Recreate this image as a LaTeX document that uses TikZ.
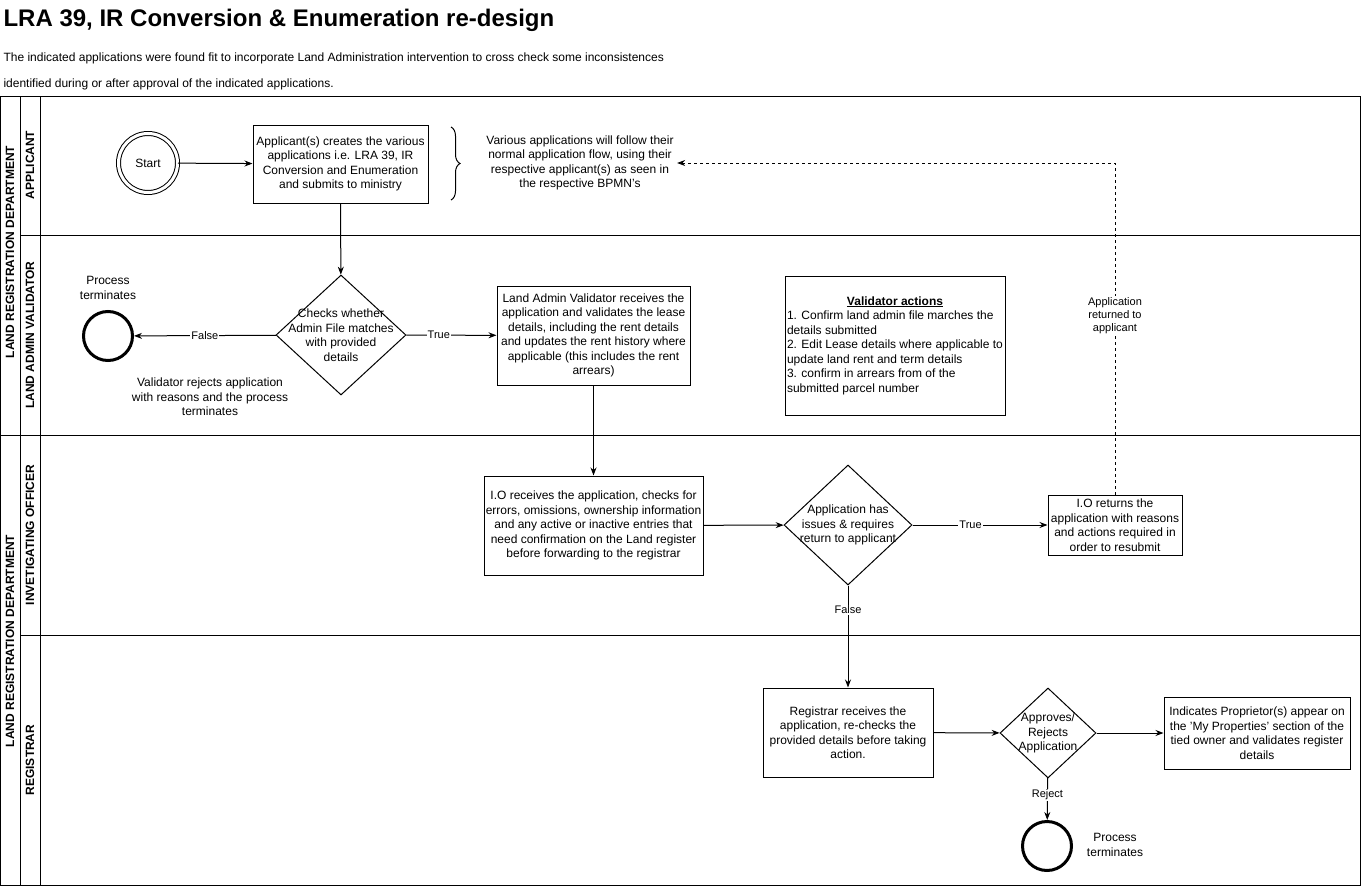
\documentclass[tikz,border=0pt]{standalone}
\usepackage{fontspec}
\setmainfont{Liberation Sans}
\usetikzlibrary{shapes.geometric,arrows.meta,decorations.pathreplacing}

\begin{document}
\begin{tikzpicture}[x=1pt,y=-1pt,
    font=\fontsize{12}{14.5}\selectfont,
    box/.style={draw, line width=1pt, align=center, inner sep=0pt},
    decision/.style={draw, diamond, line width=1pt, inner sep=0pt},
    endevent/.style={draw, circle, line width=3pt, minimum size=49pt, inner sep=0pt},
    flow/.style={line width=1pt, -{Stealth[length=8pt,width=6pt]}},
    flowlabel/.style={fill=white, inner sep=1pt, font=\fontsize{11}{13}\selectfont},
    lanelabel/.style={rotate=90, font=\fontsize{12}{14}\selectfont\bfseries}]
    \useasboundingbox (0,0) rectangle (1361,886);

    % title
    \node[anchor=west, font=\fontsize{24}{28}\selectfont\bfseries] (title) at (0,20) {LRA 39, IR Conversion \& Enumeration re-design};
    \node[anchor=west] (intro1) at (0,58) {The indicated applications were found fit to incorporate Land Administration intervention to cross check some inconsistences};
    \node[anchor=west] (intro2) at (0,84) {identified during or after approval of the indicated applications.};

    % pools and lanes
    \draw[line width=1pt] (0,96) rectangle (1360,885);
    \draw[line width=1pt] (20,96) -- (20,885);
    \draw[line width=1pt] (40,96) -- (40,885);
    \draw[line width=1pt] (0,435) -- (1360,435);
    \draw[line width=1pt] (20,235) -- (1360,235);
    \draw[line width=1pt] (20,635) -- (1360,635);
    \node[lanelabel] (pooltop) at (10,252) {LAND REGISTRATION DEPARTMENT};
    \node[lanelabel] (poolbottom) at (10,641) {LAND REGISTRATION DEPARTMENT};
    \node[lanelabel] (laneapp) at (30,165) {APPLICANT};
    \node[lanelabel] (laneval) at (30,335) {LAND ADMIN VALIDATOR};
    \node[lanelabel] (laneio) at (30,535) {INVETIGATING OFFICER};
    \node[lanelabel] (lanereg) at (30,760) {REGISTRAR};

    % applicant
    \node[draw, circle, line width=1pt, double, double distance=3pt, minimum size=59pt] (start) at (148,163) {Start};
    \node[box, minimum width=175pt, minimum height=78pt] (create) at (340.5,164) {Applicant(s) creates the various\\applications i.e. LRA 39, IR\\Conversion and Enumeration\\and submits to ministry};
    \draw[line width=1pt, decorate, decoration={brace, amplitude=9pt}] (451,127) -- (451,200);
    \node[align=center] (note) at (580,163) {Various applications will follow their\\normal application flow, using their\\respective applicant(s) as seen in\\the respective BPMN's};

    % land admin validator
    \node[decision, minimum width=130pt, minimum height=120pt,
        label={[align=center]center:Checks whether\\Admin File matches\\with provided\\details}] (check) at (341,335) {};
    \node[endevent] (end1) at (108,336) {};
    \node[align=center] (endtext1) at (108,288) {Process\\terminates};
    \node[align=center] (rejecttext) at (210,397) {Validator rejects application\\with reasons and the process\\terminates};
    \node[box, minimum width=193pt, minimum height=99pt] (validate) at (593.5,335.5) {Land Admin Validator receives the\\application and validates the lease\\details, including the rent details\\and updates the rent history where\\applicable (this includes the rent\\arrears)};
    \node[box, minimum width=220pt, minimum height=139pt, align=left] (actions) at (895,345.5) {\makebox[216pt]{\bfseries\underline{Validator actions}}\\1. Confirm land admin file marches the\\details submitted\\2. Edit Lease details where applicable to\\update land rent and term details\\3. confirm in arrears from of the\\submitted parcel number};

    % investigating officer
    \node[box, minimum width=219pt, minimum height=99pt] (inspect) at (593.5,525.5) {I.O receives the application, checks for\\errors, omissions, ownership information\\and any active or inactive entries that\\need confirmation on the Land register\\before forwarding to the registrar};
    \node[decision, minimum width=128pt, minimum height=120pt,
        label={[align=center]center:Application has\\issues \& requires\\return to applicant}] (issues) at (848,525) {};
    \node[box, minimum width=134pt, minimum height=60pt] (giveback) at (1115,525) {I.O returns the\\application with reasons\\and actions required in\\order to resubmit};

    % registrar
    \node[box, minimum width=170pt, minimum height=89pt] (recheck) at (848,732.5) {Registrar receives the\\application, re-checks the\\provided details before taking\\action.};
    \node[decision, minimum width=96pt, minimum height=90pt,
        label={[align=center]center:Approves/\\Rejects\\Application}] (approve) at (1048,733) {};
    \node[box, minimum width=186pt, minimum height=72pt] (register) at (1257,733) {Indicates Proprietor(s) appear on\\the 'My Properties' section of the\\tied owner and validates register\\details};
    \node[endevent] (end2) at (1047,846) {};
    \node[align=center] (endtext2) at (1115,845) {Process\\terminates};

    % flows
    \draw[flow] (start) -- (create);
    \draw[flow] (create) -- (check);
    \draw[flow] (check) -- node[flowlabel, pos=0.5] {False} (end1);
    \draw[flow] (check) -- node[flowlabel, pos=0.36] {True} (validate);
    \draw[flow] (validate) -- (inspect);
    \draw[flow] (inspect) -- (issues);
    \draw[flow] (issues) -- node[flowlabel, pos=0.43] {True} (giveback);
    \draw[flow] (issues) -- node[flowlabel, pos=0.24] {False} (recheck);
    \draw[flow] (recheck) -- (approve);
    \draw[flow] (approve) -- (register);
    \draw[flow] (approve) -- node[flowlabel, pos=0.4] {Reject} (end2);
    \draw[flow, dash pattern=on 3pt off 3pt] (giveback) |- node[flowlabel, pos=0.27, align=center] {Application\\returned to\\applicant} (note);

\end{tikzpicture}
\end{document}
